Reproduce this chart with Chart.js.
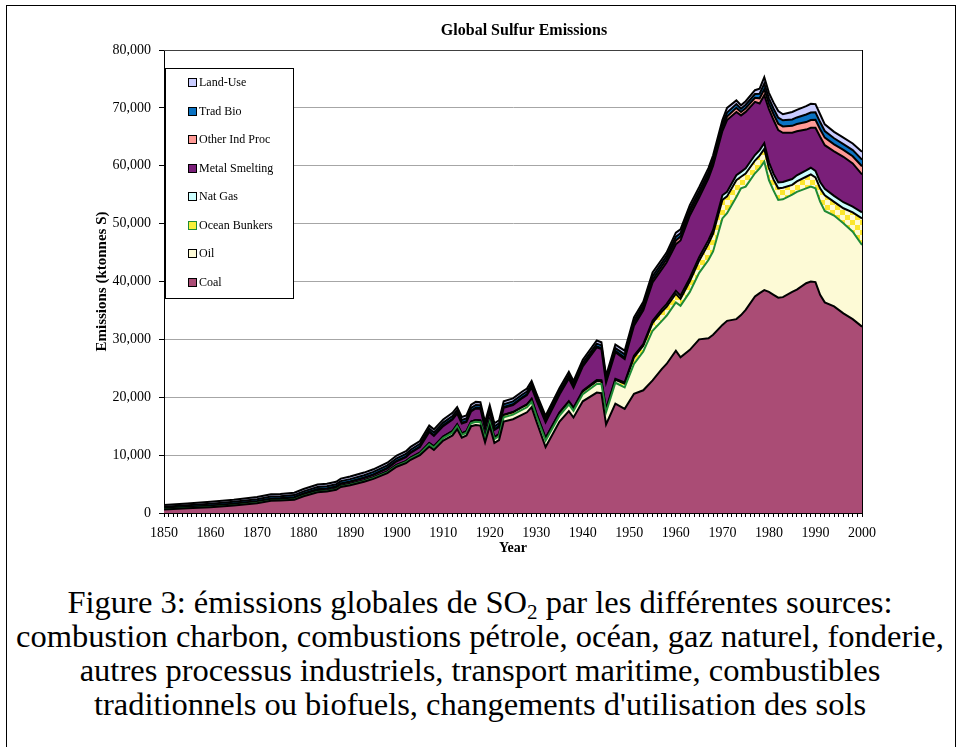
<!DOCTYPE html>
<html>
<head>
<meta charset="utf-8">
<script src="https://cdn.jsdelivr.net/npm/chart.js"></script>
<style>
  html, body { margin: 0; padding: 0; background: #fff; }
  #wrap { position: absolute; left: 0; top: 0; width: 960px; height: 560px; }
  #frame { position: absolute; left: 6px; top: 5px; width: 948px; height: 800px; border: 1px solid #000; pointer-events: none; }
  #caption { position: absolute; left: 0; top: 585px; width: 960px; text-align: center;
    font-family: 'Liberation Serif', 'Times New Roman', serif; font-size: 32.5px; line-height: 34px; color: #000; }
  #caption sub { font-size: 0.65em; vertical-align: baseline; position: relative; top: 0.3em; line-height: 0; }
</style>
</head>
<body>
<div id="frame"></div>
<div id="wrap"><canvas id="c"></canvas></div>
<div id="caption">Figure 3: émissions globales de SO<sub>2</sub> par les différentes sources:<br>combustion charbon, combustions pétrole, océan, gaz naturel, fonderie,<br>autres processus industriels, transport maritime, combustibles<br>traditionnels ou biofuels, changements d'utilisation des sols</div>
<script>
// ---- Data (ktonnes S) ----
const years = [1850,1855,1860,1865,1870,1873,1875,1878,1880,1883,1885,1887,1888,1890,1893,1895,1898,1900,1902,1903,1905,1907,1908,1910,1912,1913,1914,1915,1916,1917,1918,1919,1920,1921,1922,1923,1925,1927,1928,1929,1930,1932,1935,1937,1938,1940,1943,1944,1945,1947,1949,1951,1953,1955,1957,1958,1960,1961,1963,1965,1967,1968,1970,1971,1973,1974,1975,1977,1978,1979,1980,1981,1982,1983,1985,1986,1988,1989,1990,1991,1992,1994,1996,1998,2000];

const coal = [600,800,1000,1300,1700,2100,2150,2300,2900,3600,3700,4000,4500,4800,5400,5900,6900,8000,8600,9200,10000,11500,10900,12500,13400,14500,13000,13400,15000,15200,15100,12200,15000,12100,12600,15800,16200,17000,17400,18300,15900,11400,15800,17600,16500,19300,20800,20700,15300,18900,18000,20600,21200,22900,24900,25750,28050,26900,28200,30000,30200,30800,32500,33200,33500,34200,35100,37400,38000,38500,38200,37700,37200,37300,38200,38600,39700,40000,39900,37700,36400,35700,34500,33500,32200];

const oil = [0,0,5,10,20,25,30,35,40,50,55,60,65,75,90,100,130,160,180,200,230,350,380,430,480,500,480,480,520,560,600,600,650,650,700,750,800,850,870,900,900,1100,1050,1150,1150,1250,1500,1600,2100,3600,3700,5150,6700,8600,8300,8330,8330,8900,10000,11500,13500,14400,18400,18600,21100,21900,21300,21300,21550,22200,19300,18000,16900,16900,16800,16900,16400,16400,16200,16100,15800,15700,15550,15100,14100];

const oceanBunkers = [30,30,40,50,60,70,75,80,90,100,105,110,115,120,130,140,160,170,180,190,200,250,250,260,280,300,280,260,280,300,300,280,350,320,330,380,400,430,440,450,420,400,450,450,430,450,480,450,400,500,650,1150,1000,1350,1600,1550,1500,1200,1850,2100,2800,3050,3200,2900,2900,2000,2250,2200,2200,2200,2100,1900,2000,2000,1700,1800,2000,2100,1900,2300,2700,2350,2600,3350,4600];

const natGas = [0,0,0,0,0,0,0,0,0,0,0,0,0,0,0,0,0,0,0,0,0,0,0,0,0,0,0,0,0,0,0,0,20,20,30,40,50,60,60,70,70,80,100,120,120,150,200,200,180,200,230,280,300,370,430,460,510,530,550,600,650,650,800,800,850,850,900,950,950,1000,1000,1000,1000,1000,1000,1050,1100,1150,1100,1100,1100,1050,1050,1000,1050];

const metalSmelting = [150,170,190,200,220,230,240,260,280,300,320,340,360,380,420,450,520,600,700,800,950,1900,1800,1830,2000,1860,1705,1580,1760,2000,2010,1485,1440,1270,1200,1200,1215,1525,1600,1960,2280,2700,3065,3930,3450,4200,5650,5380,4550,4600,4020,5180,5830,6600,6900,7180,8050,9570,10800,10300,10650,11100,11100,12400,10950,9750,9750,9200,8050,8300,9200,9300,9050,8500,8000,7600,7050,6900,7450,7800,7550,7700,7850,7450,6550];

const otherIndProc = [30,30,35,40,45,50,50,55,55,60,60,65,65,70,75,80,85,90,95,100,105,120,120,130,135,140,135,130,135,135,135,130,135,135,135,130,135,135,135,135,135,130,140,150,150,155,160,160,160,200,250,280,400,500,550,580,650,650,600,600,550,550,600,600,700,600,650,700,900,1000,950,1000,1100,1100,1200,1250,1300,1350,1400,1300,1300,1200,1200,1250,1400];

const tradBio = [280,300,330,340,350,360,365,370,380,390,395,400,405,410,420,425,435,440,445,450,455,460,470,470,475,475,475,475,480,480,480,480,480,480,480,480,480,480,475,470,470,470,470,470,470,470,470,470,470,500,550,550,550,600,580,570,650,600,550,550,600,600,600,700,650,550,600,650,800,1000,900,950,1050,1050,1100,1150,1300,1300,1300,1250,1150,1050,1000,1050,1150];

const landUse = [310,320,350,360,375,385,390,400,410,420,425,430,435,440,450,455,465,470,475,480,485,520,530,530,530,525,525,525,525,525,525,525,525,525,525,520,520,520,520,515,525,520,525,530,530,525,540,540,540,600,650,600,520,630,590,580,710,670,650,650,650,670,700,800,650,600,600,650,880,1100,950,1050,1150,1050,1300,1300,1450,1500,1400,1350,1150,1100,1100,1150,1350];

const yTickStep = 10000;
const xTickStep = 10;
const chartTitle = 'Global Sulfur Emissions';

// ---- Styling ----
const SERIF = "'Liberation Serif', 'Times New Roman', serif";
Chart.defaults.font.family = SERIF;
Chart.defaults.color = '#000';

const cv = document.getElementById('c');
const ctx = cv.getContext('2d');

const pc = document.createElement('canvas');
pc.width = 10; pc.height = 10;
const pctx = pc.getContext('2d');
pctx.fillStyle = '#fffad0'; pctx.fillRect(0, 0, 10, 10);
pctx.fillStyle = '#fbe62e'; pctx.fillRect(0, 0, 5, 5); pctx.fillRect(5, 5, 5, 5);
const oceanPattern = ctx.createPattern(pc, 'repeat');

const GREEN = '#1f8a36';
const series = [
  { label: 'Coal', values: coal, fill: '#aa4c75', border: '#000', legendFill: '#aa4c75', legendBorder: '#000' },
  { label: 'Oil', values: oil, fill: '#fdfad6', border: GREEN, legendFill: '#fdfad6', legendBorder: '#000' },
  { label: 'Ocean Bunkers', values: oceanBunkers, fill: oceanPattern, border: '#000', legendFill: '#f8f03a', legendBorder: GREEN },
  { label: 'Nat Gas', values: natGas, fill: '#ccffff', border: '#000', legendFill: '#ccffff', legendBorder: '#000' },
  { label: 'Metal Smelting', values: metalSmelting, fill: '#7a1f79', border: '#000', legendFill: '#7a1f79', legendBorder: '#000' },
  { label: 'Other Ind Proc', values: otherIndProc, fill: '#ff9a96', border: '#000', legendFill: '#ff9a96', legendBorder: '#000' },
  { label: 'Trad Bio', values: tradBio, fill: '#0a72c2', border: '#000', legendFill: '#0a72c2', legendBorder: '#000' },
  { label: 'Land-Use', values: landUse, fill: '#c9ccff', border: '#000', legendFill: '#c9ccff', legendBorder: '#000' }
];

const datasets = series.map((s, i) => ({
  label: s.label,
  data: years.map((y, k) => ({ x: y, y: s.values[k] })),
  backgroundColor: s.fill,
  borderColor: s.border,
  borderWidth: 2,
  fill: i === 0 ? 'origin' : '-1',
  pointRadius: 0,
  tension: 0,
  legendFill: s.legendFill,
  legendBorder: s.legendBorder
}));

const titlePlugin = {
  id: 'titleText',
  afterDraw(chart) {
    const c = chart.ctx;
    c.save();
    c.font = 'bold 16px ' + SERIF;
    c.fillStyle = '#000';
    c.textAlign = 'center';
    c.textBaseline = 'middle';
    c.fillText(chartTitle, 524, 31);
    c.restore();
  }
};

const plotFrame = {
  id: 'plotFrame',
  afterDatasetsDraw(chart) {
    const a = chart.chartArea, c = chart.ctx;
    c.save();
    c.lineWidth = 1;
    c.strokeStyle = '#404040';
    c.beginPath(); c.moveTo(a.left, Math.round(a.top) + 0.5); c.lineTo(a.right, Math.round(a.top) + 0.5); c.stroke();
    c.strokeStyle = '#000';
    c.beginPath(); c.moveTo(Math.round(a.right) + 0.5, a.top); c.lineTo(Math.round(a.right) + 0.5, a.bottom); c.stroke();
    c.restore();
  }
};

const legendBox = {
  id: 'legendBox',
  afterDraw(chart) {
    const a = chart.chartArea, c = chart.ctx;
    const x0 = Math.round(a.left) + 1, y0 = Math.round(a.top) + 18, w = 128, h = 230;
    c.save();
    c.fillStyle = '#fff';
    c.fillRect(x0, y0, w, h);
    c.strokeStyle = '#000'; c.lineWidth = 1;
    c.strokeRect(x0 + 0.5, y0 + 0.5, w, h);
    const list = chart.data.datasets.slice().reverse();
    c.font = '12px ' + SERIF;
    c.textBaseline = 'middle';
    c.textAlign = 'left';
    list.forEach((d, i) => {
      const cy = Math.round(y0 + 15 + i * 28.5);
      c.fillStyle = d.legendFill;
      c.fillRect(x0 + 24, cy - 4, 7, 7);
      c.strokeStyle = d.legendBorder;
      c.strokeRect(x0 + 23.5, cy - 4.5, 8, 8);
      c.fillStyle = '#000';
      c.fillText(d.label, x0 + 34, cy);
    });
    c.restore();
  }
};

new Chart(cv, {
  type: 'line',
  data: { datasets },
  options: {
    responsive: true,
    maintainAspectRatio: false,
    animation: false,
    layout: { padding: { left: 0, right: 98, top: 50, bottom: 3 } },
    plugins: {
      legend: { display: false },
      tooltip: { enabled: false },
      title: { display: false }
    },
    scales: {
      x: {
        type: 'linear',
        min: 1850, max: 2000,
        ticks: {
          stepSize: 1,
          autoSkip: false,
          maxRotation: 0,
          padding: 8,
          font: { size: 14, family: SERIF },
          color: '#000',
          callback: v => (v % xTickStep === 0 ? String(v) : '')
        },
        grid: { drawOnChartArea: false, tickColor: '#000', tickLength: 4 },
        border: { display: true, color: '#000', width: 1 },
        title: { display: true, text: 'Year', font: { size: 14, weight: 'bold', family: SERIF }, color: '#000', padding: { top: 0, bottom: 0 } },
        afterFit(scale) { scale.height = 44; }
      },
      y: {
        stacked: true,
        min: 0, max: 80000,
        ticks: {
          stepSize: yTickStep,
          padding: 8,
          font: { size: 14, family: SERIF },
          color: '#000',
          callback: v => Number(v).toLocaleString('en-US')
        },
        grid: { color: '#a6a6a6', tickColor: '#000', tickLength: 5, lineWidth: 1 },
        border: { display: true, color: '#000', width: 1 },
        title: { display: true, text: 'Emissions (ktonnes S)', font: { size: 15, weight: 'bold', family: SERIF }, color: '#000', padding: { top: 93, bottom: 0 } },
        afterFit(scale) { scale.width = 164; }
      }
    }
  },
  plugins: [plotFrame, legendBox, titlePlugin]
});
</script>
</body>
</html>
